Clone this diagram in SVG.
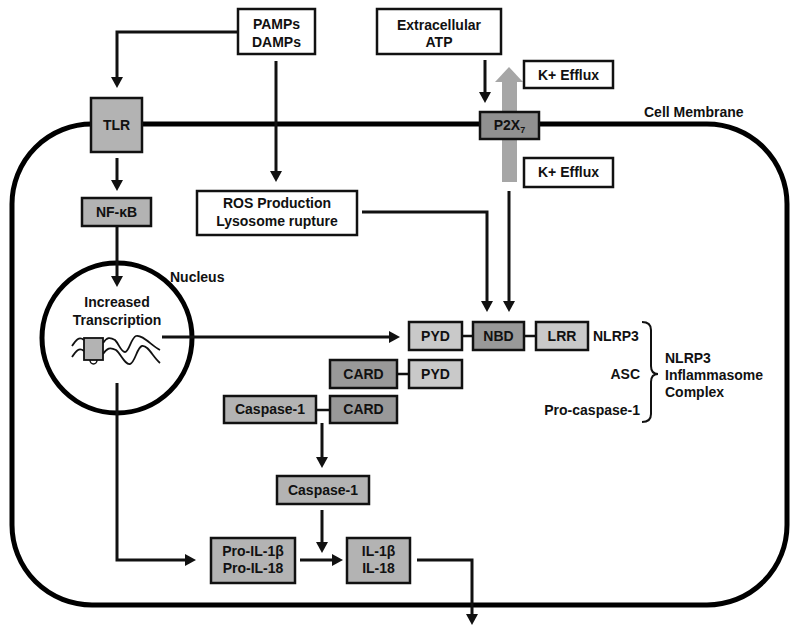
<svg xmlns="http://www.w3.org/2000/svg" width="800" height="636" viewBox="0 0 800 636">
<style>
text{font-family:"Liberation Sans",Arial,sans-serif;font-weight:bold;font-size:14px;fill:#111}
.c{text-anchor:middle}
.r{text-anchor:end}
.bw{fill:#fff;stroke:#111;stroke-width:2.5}
.gm{fill:#b3b3b3;stroke:#111;stroke-width:2.5}
.gl{fill:#c9c9c9;stroke:#111;stroke-width:2.5}
.gd{fill:#999;stroke:#111;stroke-width:2.5}
.ln{fill:none;stroke:#111;stroke-width:3}
.ar{fill:none;stroke:#111;stroke-width:3;marker-end:url(#ah)}
.lk{fill:none;stroke:#111;stroke-width:2.5}
</style>
<defs>
<marker id="ah" markerUnits="userSpaceOnUse" viewBox="0 0 11 12" markerWidth="11" markerHeight="12" refX="6" refY="6" orient="auto">
<path d="M0,0 L11,6 L0,12 z" fill="#111"/>
</marker>
</defs>
<rect width="800" height="636" fill="#fff"/>
<g id="cell-membrane">
<rect x="12" y="124" width="775" height="481" rx="80" ry="80" fill="none" stroke="#000" stroke-width="5"/>
<text x="644" y="117">Cell Membrane</text>
</g>
<g id="nucleus">
<circle cx="117" cy="338" r="75" fill="#fff" stroke="#000" stroke-width="5"/>
<text x="170" y="282">Nucleus</text>
<text class="c" x="117" y="307">Increased</text>
<text class="c" x="117" y="325">Transcription</text>
<path d="M72,346 C76,340 79,336 84,340 M103,343 C107,337 110,337 115,340 C119,344 121,352 125,352 C129,352 131,338 136,336 C142,334 152,346 160,350" fill="none" stroke="#111" stroke-width="1.8"/>
<path d="M72,357 C76,351 79,347 84,351 M103,354 C107,348 110,347 116,350 C121,354 125,365 130,364 C135,363 137,347 142,346 C148,345 153,357 160,363" fill="none" stroke="#111" stroke-width="1.8"/>
<path d="M90,360 A3.5,4 0 0 0 97,360" fill="#fff" stroke="#111" stroke-width="1.5"/>
<rect x="84" y="338" width="19" height="22" fill="#b3b3b3" stroke="#111" stroke-width="1.8"/>
</g>
<g id="connectors">
<path class="ar" d="M238,32 H117 V83"/>
<path class="ar" d="M276,61 V177"/>
<path class="ar" d="M117,158 V186"/>
<path class="ar" d="M117,226 V282"/>
<path class="ar" d="M485,60 V98"/>
<path class="ar" d="M362,212 H487 V307"/>
<path class="ar" d="M509,191 V307"/>
<path class="ar" d="M162,337 H395"/>
<path class="ar" d="M322,423 V463"/>
<path class="ar" d="M322,510 V548"/>
<path class="ar" d="M117,383 V560 H191"/>
<path class="ar" d="M300,560 H338"/>
<path class="ar" d="M417,560 H472 V620"/>
<path class="lk" d="M462,336 H473 M524,336 H536 M397,374 H409 M316,410 H330"/>
<path d="M642,322 Q651,322 651,330 V366 Q651,374 658,374 Q651,374 651,382 V414 Q651,422 642,422" fill="none" stroke="#111" stroke-width="2"/>
</g>
<g id="k-efflux-arrow">
<rect x="502" y="81" width="15" height="101" fill="#a6a6a6"/>
<polygon points="495,82 523,82 509,67" fill="#a6a6a6"/>
</g>
<g id="pamps">
<rect class="bw" x="238" y="9" width="77" height="45"/>
<text class="c" x="276.5" y="29">PAMPs</text>
<text class="c" x="276.5" y="47">DAMPs</text>
</g>
<g id="atp">
<rect class="bw" x="377" y="9" width="124" height="45"/>
<text class="c" x="439" y="30">Extracellular</text>
<text class="c" x="439" y="47">ATP</text>
</g>
<g id="k-efflux-out">
<rect class="bw" x="524" y="61" width="89" height="27"/>
<text class="c" x="568.5" y="80">K+ Efflux</text>
</g>
<g id="k-efflux-in">
<rect class="bw" x="524" y="158" width="89" height="29"/>
<text class="c" x="568.5" y="177">K+ Efflux</text>
</g>
<g id="p2x7">
<rect x="480" y="112" width="59" height="27" fill="#909090" stroke="#111" stroke-width="2.5"/>
<text class="c" x="509.5" y="130">P2X<tspan font-size="9" dy="3">7</tspan></text>
</g>
<g id="tlr">
<rect class="gm" x="91" y="98" width="51" height="54"/>
<text class="c" x="116.5" y="130">TLR</text>
</g>
<g id="nfkb">
<rect class="gm" x="82" y="198" width="69" height="28"/>
<text class="c" x="116.5" y="217">NF-κB</text>
</g>
<g id="ros">
<rect class="bw" x="197" y="191" width="160" height="44"/>
<text class="c" x="277" y="208">ROS Production</text>
<text class="c" x="277" y="226">Lysosome rupture</text>
</g>
<g id="nlrp3-pyd">
<rect class="gl" x="409" y="322" width="53" height="28"/>
<text class="c" x="435.5" y="341">PYD</text>
</g>
<g id="nlrp3-nbd">
<rect class="gd" x="473" y="322" width="51" height="28"/>
<text class="c" x="498.5" y="341">NBD</text>
</g>
<g id="nlrp3-lrr">
<rect class="gl" x="536" y="322" width="52" height="28"/>
<text class="c" x="562" y="341">LRR</text>
</g>
<g id="asc-card">
<rect class="gd" x="330" y="360" width="67" height="28"/>
<text class="c" x="363.5" y="379">CARD</text>
</g>
<g id="asc-pyd">
<rect class="gl" x="409" y="360" width="53" height="28"/>
<text class="c" x="435.5" y="379">PYD</text>
</g>
<g id="procasp-casp">
<rect class="gm" x="224" y="396" width="92" height="27"/>
<text class="c" x="270" y="414">Caspase-1</text>
</g>
<g id="procasp-card">
<rect class="gd" x="330" y="396" width="67" height="27"/>
<text class="c" x="363.5" y="414">CARD</text>
</g>
<g id="complex-labels">
<text x="593" y="341">NLRP3</text>
<text class="r" x="640" y="379">ASC</text>
<text class="r" x="640" y="415">Pro-caspase-1</text>
<text x="665" y="363">NLRP3</text>
<text x="665" y="380">Inflammasome</text>
<text x="665" y="397">Complex</text>
</g>
<g id="caspase1">
<rect class="gm" x="277" y="476" width="92" height="28"/>
<text class="c" x="323" y="495">Caspase-1</text>
</g>
<g id="pro-il">
<rect class="gm" x="211" y="538" width="84" height="45"/>
<text class="c" x="253" y="556">Pro-IL-1β</text>
<text class="c" x="253" y="573">Pro-IL-18</text>
</g>
<g id="il">
<rect class="gm" x="347" y="538" width="63" height="45"/>
<text class="c" x="378.5" y="556">IL-1β</text>
<text class="c" x="378.5" y="573">IL-18</text>
</g>
</svg>
